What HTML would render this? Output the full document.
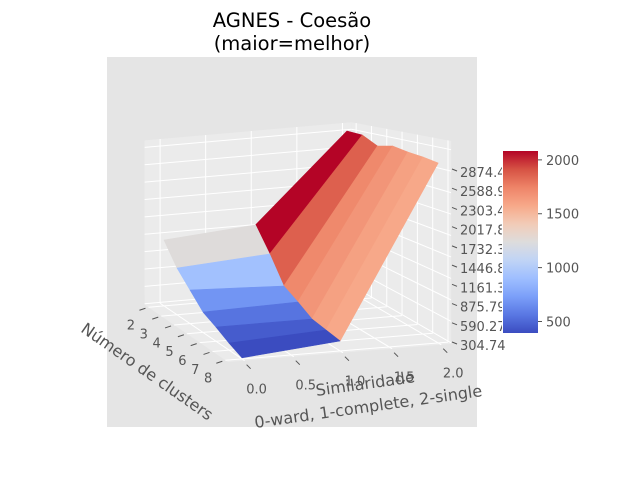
<!DOCTYPE html>
<html><head><meta charset="utf-8"><style>
body{margin:0;background:#fff}
svg text{font-family:"DejaVu Sans","Liberation Sans",sans-serif}
</style></head><body>
<svg id="chart" width="640" height="480" viewBox="0 0 640 480" xmlns="http://www.w3.org/2000/svg">
<rect x="0" y="0" width="640" height="480" fill="#fff"/>
<rect x="107" y="57" width="370" height="370" fill="#e5e5e5"/>
<text x="292" y="27" text-anchor="middle" font-size="19.5" fill="#000">AGNES - Coesão</text>
<text x="292" y="50" text-anchor="middle" font-size="19.5" fill="#000">(maior=melhor)</text>
<g id="panes"></g><g id="grid"></g><g id="surface"></g><g id="ticks"></g><g id="cbar"></g>
<text transform="translate(144,376) rotate(35)" text-anchor="middle" font-size="16" fill="#555">Número de clusters</text>
<text transform="translate(366,389) rotate(-8)" text-anchor="middle" font-size="16" fill="#555">Similaridade</text>
<text transform="translate(369,412) rotate(-8)" text-anchor="middle" font-size="16" fill="#555">0-ward, 1-complete, 2-single</text>
</svg>
<script>
const clusters=[2,3,4,5,6,7,8];
const sims=[0,1,2];
const wardVals=[1362,1024,800,590,493,388,305];
const completeVals=[1476,1118,739,619,493,457,423];
const singleVals=[2874,2861,2742,2792,2754,2733,2698];
const zTickLabels=["304.74","590.27","875.79","1161.3","1446.8","1732.3","2017.8","2303.4","2588.9","2874.4"];
const cbarTicks=[500,1000,1500,2000];
const rows=[wardVals,completeVals,singleVals];
const NS="http://www.w3.org/2000/svg";
function mk(tag,attrs,parent){const e=document.createElementNS(NS,tag);for(const k in attrs)e.setAttribute(k,attrs[k]);parent.appendChild(e);return e;}
function P(c,s,z){const x=164+s*91.5+(c-2)*(13+1.1*s);const fy=305+(c-2)*8.8-8*s;const k=0.0615+(c-2)*0.0022;return [x,fy-(z-305)*k];}
function pts(a){return a.map(p=>p[0].toFixed(1)+","+p[1].toFixed(1)).join(" ");}
const stops=[[59,76,192],[89,119,227],[123,159,249],[158,190,255],[192,212,245],[221,220,220],[242,203,183],[247,168,137],[238,132,104],[214,82,68],[180,4,38]];
function cw(t){t=Math.max(0,Math.min(1,t));const f=t*(stops.length-1),i=Math.min(Math.floor(f),stops.length-2),u=f-i;const a=stops[i],b=stops[i+1];return "rgb("+a.map((v,j)=>Math.round(v+(b[j]-v)*u)).join(",")+")";}
const C0=1.7,C1=8.2,S0=-0.17,S1=2.1,Z0=290,Z1=2990;
const panes=document.getElementById('panes'),grid=document.getElementById('grid'),ticks=document.getElementById('ticks');
let p=mk('polygon',{points:pts([P(C0,S0,Z0),P(C0,S1,Z0),P(C0,S1,Z1),P(C0,S0,Z1)]),fill:'#ebebeb'},panes);

p=mk('polygon',{points:pts([P(C0,S1,Z0),P(C1,S1,Z0),P(C1,S1,Z1),P(C0,S1,Z1)]),fill:'#ebebeb'},panes);

p=mk('polygon',{points:pts([P(C0,S0,Z0),P(C1,S0,Z0),P(C1,S1,Z0),P(C0,S1,Z0)]),fill:'#ebebeb'},panes);

const zv=zTickLabels.map(Number);
function line(a,b,parent,name){const l=mk('line',{x1:a[0],y1:a[1],x2:b[0],y2:b[1],stroke:'#fff','stroke-width':1},parent);return l;}
zv.forEach(z=>{line(P(C0,S0,z),P(C0,S1,z),grid,'z-gridline');line(P(C0,S1,z),P(C1,S1,z),grid,'z-gridline');});
[0,0.5,1,1.5,2].forEach(s=>{line(P(C0,s,Z0),P(C0,s,Z1),grid,'s-gridline');line(P(C0,s,Z0),P(C1,s,Z0),grid,'s-gridline');});
clusters.forEach(c=>{line(P(c,S1,Z0),P(c,S1,Z1),grid,'c-gridline');line(P(c,S0,Z0),P(c,S1,Z0),grid,'c-gridline');});
const faces=[];
for(let i=0;i<clusters.length-1;i++)for(let j=0;j<sims.length-1;j++){
 const c0=clusters[i],c1=clusters[i+1],s0=sims[j],s1=sims[j+1];
 const z00=rows[j][i],z10=rows[j][i+1],z01=rows[j+1][i],z11=rows[j+1][i+1];
 faces.push({avg:(z00+z10+z01+z11)/4,poly:[P(c0,s0,z00),P(c1,s0,z10),P(c1,s1,z11),P(c0,s1,z01)],depth:(c0+c1)/2*8.8-(s0+s1)/2*8});
}
const vmin=Math.min(...faces.map(f=>f.avg)),vmax=Math.max(...faces.map(f=>f.avg));
faces.sort((a,b)=>a.depth-b.depth);
const surf=document.getElementById('surface');
faces.forEach(f=>{const col=cw((f.avg-vmin)/(vmax-vmin));const e=mk('polygon',{points:pts(f.poly),fill:col,stroke:col,'stroke-width':0.6,'stroke-linejoin':'round'},surf);
});
clusters.forEach(c=>{const a=P(c,-0.1,Z0);const b=P(c,S0,Z0);const t=mk('text',{x:a[0]-24,y:a[1]+23,'text-anchor':'middle','font-size':13,fill:'#555'},ticks);t.textContent=c;

const m=mk('line',{x1:b[0]-3,y1:b[1]+1,x2:b[0]-9,y2:b[1]+3,stroke:'#555','stroke-width':1},ticks);});
[0,0.5,1,1.5,2].forEach(s=>{const a=P(C1,s,Z0);const t=mk('text',{x:a[0]+12,y:a[1]+33,'text-anchor':'middle','font-size':13,fill:'#555'},ticks);t.textContent=s.toFixed(1);

const m=mk('line',{x1:a[0]+2,y1:a[1]+4,x2:a[0]+6,y2:a[1]+8,stroke:'#555','stroke-width':1},ticks);});
function zy(z){return 345-(z-zv[0])/(zv[zv.length-1]-zv[0])*173;}
zTickLabels.forEach((lab,i)=>{const y=zy(zv[i]);const t=mk('text',{x:460,y:y+5,'font-size':13,fill:'#555'},ticks);t.textContent=lab;

const m=mk('line',{x1:452,y1:y-3,x2:457,y2:y-1,stroke:'#555','stroke-width':1},ticks);});
const cb=document.getElementById('cbar');
const bg=mk('rect',{x:502,y:140,width:40,height:196,fill:'#fff'},cb);

const defs=mk('defs',{},cb);const g=mk('linearGradient',{id:'cwg',x1:0,y1:1,x2:0,y2:0},defs);
for(let i=0;i<=20;i++)mk('stop',{offset:i/20,'stop-color':cw(i/20)},g);
const cbTop=151,cbBot=333;
const r=mk('rect',{x:503,y:cbTop,width:35,height:cbBot-cbTop,fill:'url(#cwg)'},cb);

cbarTicks.forEach(v=>{const y=cbBot-(v-vmin)/(vmax-vmin)*(cbBot-cbTop);
const m=mk('line',{x1:538,y1:y,x2:542,y2:y,stroke:'#555','stroke-width':1},cb);
const t=mk('text',{x:546,y:y+5,'font-size':13,fill:'#555'},cb);t.textContent=v;});
</script>
</body></html>
